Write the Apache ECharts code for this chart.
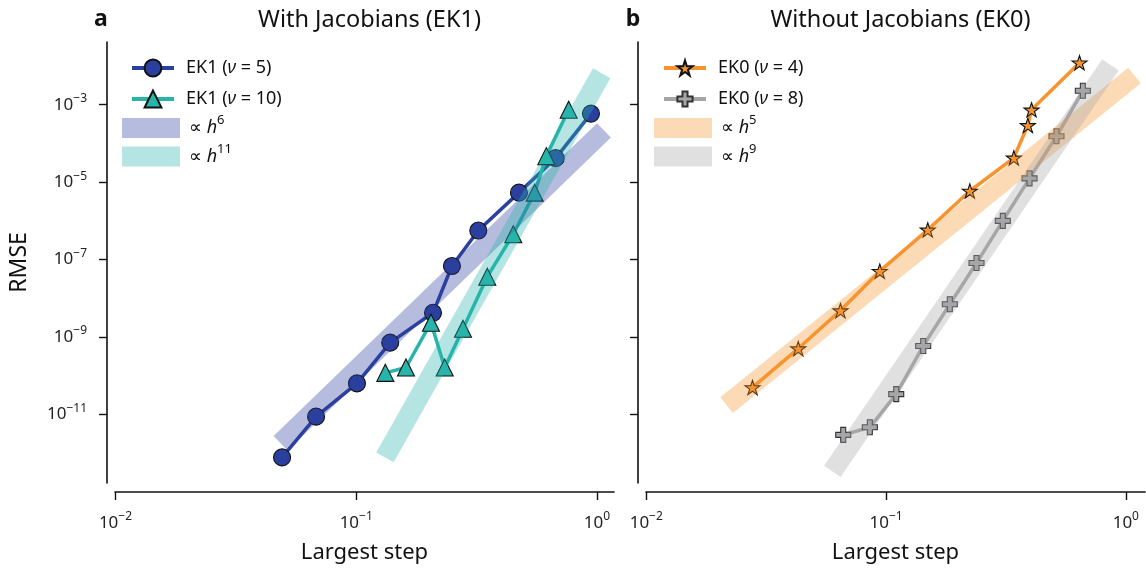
<!DOCTYPE html>
<html>
<head>
<meta charset="utf-8">
<script src="https://cdn.jsdelivr.net/npm/echarts@6/dist/echarts.min.js"></script>
<style>
  html, body { margin: 0; padding: 0; background: #fff; }
  #chart { width: 1146px; height: 569px; }
</style>
</head>
<body>
<div id="chart"></div>
<script>
// ---------------- data ----------------
// Panel a: with Jacobians (EK1)
const ek1_5_h   = [0.0492, 0.0681, 0.1007, 0.1384, 0.2084, 0.2498, 0.3214, 0.4742, 0.6737, 0.944];
const ek1_5_err = [7.7e-13, 8.7e-12, 6.3e-11, 7.1e-10, 4.2e-9, 6.8e-8, 5.6e-7, 5.35e-6, 4.16e-5, 5.9e-4];
const ek1_10_h   = [0.1321, 0.1609, 0.2044, 0.2331, 0.2776, 0.3502, 0.4491, 0.551, 0.6158, 0.7629];
const ek1_10_err = [1.18e-10, 1.62e-10, 2.33e-9, 1.62e-10, 1.63e-9, 3.6e-8, 4.5e-7, 5.35e-6, 4.7e-5, 7.4e-4];
const ref_h6_h    = [0.0485, 1.069];
const ref_h6_err  = [1.79e-12, 2.18e-4];
const ref_h11_h   = [0.1316, 1.046];
const ref_h11_err = [7.7e-13, 6.5e-3];

// Panel b: without Jacobians (EK0)
const ek0_4_h   = [0.02775, 0.04305, 0.06457, 0.09419, 0.1493, 0.2236, 0.3412, 0.3903, 0.4045, 0.6412];
const ek0_4_err = [4.95e-11, 5.0e-10, 4.8e-9, 5.0e-8, 5.85e-7, 5.9e-6, 4.25e-5, 2.94e-4, 7.4e-4, 1.22e-2];
const ek0_8_h   = [0.0663, 0.0856, 0.1103, 0.1429, 0.1845, 0.2384, 0.3069, 0.3967, 0.514, 0.6618];
const ek0_8_err = [2.94e-12, 4.63e-12, 3.33e-11, 5.85e-10, 7.0e-9, 8.1e-8, 9.95e-7, 1.25e-5, 1.53e-4, 2.29e-3];
const ref_h5_h    = [0.02163, 1.087];
const ref_h5_err  = [1.73e-11, 5.68e-3];
const ref_h9_h    = [0.0597, 0.8634];
const ref_h9_err  = [3.36e-13, 1.07e-2];

// tick exponents (labels are 10^k)
const xTickExp = [-2, -1, 0];
const yTickExp = [-11, -9, -7, -5, -3];

// ---------------- helpers ----------------
const FONT = '"Noto Sans", "Open Sans", sans-serif';
function toXY(hs, es) { return hs.map((h, i) => [Math.log10(h), Math.log10(es[i])]); }
function expLabel(v) {
  const k = Math.round(v);
  return '10{sup|' + (k < 0 ? '\u2212' : '') + Math.abs(k) + '}';
}
const STAR = 'path://M50,0 L61.23,34.55 L97.55,34.55 L68.17,55.9 L79.39,90.45 L50,69.1 L20.61,90.45 L31.83,55.9 L2.45,34.55 L38.77,34.55 Z';
const PLUS = 'path://M2,0 L4,0 L4,2 L6,2 L6,4 L4,4 L4,6 L2,6 L2,4 L0,4 L0,2 L2,2 Z';

const C_BLUE = '#2b409e', C_TEAL = '#27b5ab', C_ORANGE = '#f7942f', C_GRAY = '#a6a6a9';
function rgba(hex, a) {
  const n = parseInt(hex.slice(1), 16);
  return 'rgba(' + (n >> 16) + ',' + ((n >> 8) & 255) + ',' + (n & 255) + ',' + a + ')';
}
const tickRich = { sup: { fontSize: 12, verticalAlign: 'top', color: '#222', fontFamily: FONT } };

function xAxisCfg(idx, min, max) {
  return {
    type: 'value', gridIndex: idx, min: min, max: max, offset: 9,
    name: 'Largest step', nameLocation: 'middle', nameGap: 50,
    nameTextStyle: { fontSize: 22, color: '#111', fontFamily: FONT },
    axisLine: { onZero: false, lineStyle: { color: '#111', width: 1.6 } },
    axisTick: { customValues: xTickExp, length: 8, lineStyle: { color: '#111', width: 1.4 } },
    axisLabel: {
      customValues: xTickExp, margin: 19, formatter: expLabel,
      fontSize: 17, lineHeight: 24, color: '#222', fontFamily: FONT, rich: tickRich
    },
    splitLine: { show: false }
  };
}
function yAxisCfg(idx, showLabels) {
  return {
    type: 'value', gridIndex: idx, min: -12.775, max: -1.379, offset: 8,
    name: showLabels ? 'RMSE' : '', nameLocation: 'middle', nameGap: 76,
    nameTextStyle: { fontSize: 23, color: '#111', fontFamily: FONT },
    axisLine: { show: true, onZero: false, lineStyle: { color: '#111', width: 1.6 } },
    axisTick: { show: true, customValues: yTickExp, length: 8, lineStyle: { color: '#111', width: 1.4 } },
    axisLabel: {
      show: showLabels, customValues: yTickExp, margin: 20, formatter: expLabel,
      fontSize: 17, lineHeight: 24, color: '#222', fontFamily: FONT, rich: tickRich
    },
    splitLine: { show: false }
  };
}
function dataSeries(name, idx, data, color, symbol, size, edge) {
  return {
    name: name, type: 'line', xAxisIndex: idx, yAxisIndex: idx, data: data,
    symbol: symbol, symbolSize: size, symbolKeepAspect: true, showSymbol: true,
    color: color,
    lineStyle: { color: color, width: 3.5 },
    itemStyle: { color: color, borderColor: edge, borderWidth: 1.1 },
    z: 2, clip: false, silent: true
  };
}
function bandSeries(name, idx, data, color) {
  return {
    name: name, type: 'line', xAxisIndex: idx, yAxisIndex: idx, data: data,
    symbol: 'none', showSymbol: false, color: rgba(color, 0.35),
    lineStyle: { color: rgba(color, 0.35), width: 20, cap: 'butt' },
    itemStyle: { color: rgba(color, 0.35) },
    z: 3, clip: false, silent: true
  };
}
function legendFmt(name) {
  return name.replace('\u03bd', '{i|\u03bd}').replace(/h\^(\d+)/, '{i|h}{sup|$1}');
}
const LEG_LH = 28;
const legendText = {
  fontSize: 18, color: '#111', fontFamily: FONT, lineHeight: LEG_LH,
  rich: {
    i: { fontStyle: 'italic', fontSize: 18, fontFamily: FONT, color: '#111' },
    sup: { fontSize: 13, verticalAlign: 'top', fontFamily: FONT, color: '#111' }
  }
};
// one legend per item, so each icon can have its own size and exact centre
function lineLegend(left, centerY, name, itemH) {
  return {
    orient: 'vertical', left: left, top: centerY - Math.max(itemH, LEG_LH) / 2, padding: 0,
    itemWidth: 42, itemHeight: itemH, selectedMode: false, data: [name],
    lineStyle: { width: 4 },
    formatter: legendFmt, textStyle: Object.assign({ padding: [0, 0, 0, 7] }, legendText)
  };
}
function bandLegend(left, centerY, name, color) {
  return {
    orient: 'vertical', left: left, top: centerY - LEG_LH / 2, padding: 0,
    itemWidth: 58, itemHeight: 20, selectedMode: false,
    data: [{ name: name, icon: 'rect', itemStyle: { color: rgba(color, 0.35), borderWidth: 0 } }],
    formatter: legendFmt, textStyle: Object.assign({ padding: [0, 0, 0, 4] }, legendText)
  };
}

const chart = echarts.init(document.getElementById('chart'), null, { renderer: 'canvas' });
chart.setOption({
  animation: false,
  backgroundColor: '#fff',
  textStyle: { fontFamily: FONT },
  title: [
    { text: 'a', left: 96, top: 3, textAlign: 'center', textStyle: { fontSize: 23, fontWeight: 'bold', color: '#111', fontFamily: FONT } },
    { text: 'With Jacobians (EK1)', left: 364.5, top: 3, textAlign: 'center', textStyle: { fontSize: 23.5, fontWeight: 'normal', color: '#111', fontFamily: FONT } },
    { text: 'b', left: 628, top: 3, textAlign: 'center', textStyle: { fontSize: 23, fontWeight: 'bold', color: '#111', fontFamily: FONT } },
    { text: 'Without Jacobians (EK0)', left: 895.5, top: 3, textAlign: 'center', textStyle: { fontSize: 23.5, fontWeight: 'normal', color: '#111', fontFamily: FONT } }
  ],
  grid: [
    { left: 115, top: 42, width: 499, height: 443 },
    { left: 646, top: 42, width: 499, height: 443 }
  ],
  xAxis: [xAxisCfg(0, -2.002, 0.0707), xAxisCfg(1, -2.001, 0.080)],
  yAxis: [yAxisCfg(0, true), yAxisCfg(1, false)],
  legend: [
    lineLegend(130, 68, 'EK1 (\u03bd = 5)', 21),
    lineLegend(130, 99, 'EK1 (\u03bd = 10)', 21),
    bandLegend(122, 128, '\u221d h^6', C_BLUE),
    bandLegend(122, 156.5, '\u221d h^11', C_TEAL),
    lineLegend(662, 68, 'EK0 (\u03bd = 4)', 19),
    lineLegend(662, 99, 'EK0 (\u03bd = 8)', 19),
    bandLegend(654, 128, '\u221d h^5', C_ORANGE),
    bandLegend(654, 156.5, '\u221d h^9', C_GRAY)
  ],
  series: [
    dataSeries('EK1 (\u03bd = 5)', 0, toXY(ek1_5_h, ek1_5_err), C_BLUE, 'circle', 17, '#111'),
    dataSeries('EK1 (\u03bd = 10)', 0, toXY(ek1_10_h, ek1_10_err), C_TEAL, 'triangle', 17, '#111'),
    bandSeries('\u221d h^6', 0, toXY(ref_h6_h, ref_h6_err), C_BLUE),
    bandSeries('\u221d h^11', 0, toXY(ref_h11_h, ref_h11_err), C_TEAL),
    dataSeries('EK0 (\u03bd = 4)', 1, toXY(ek0_4_h, ek0_4_err), C_ORANGE, STAR, 15, '#111'),
    dataSeries('EK0 (\u03bd = 8)', 1, toXY(ek0_8_h, ek0_8_err), C_GRAY, PLUS, 15, '#333'),
    bandSeries('\u221d h^5', 1, toXY(ref_h5_h, ref_h5_err), C_ORANGE),
    bandSeries('\u221d h^9', 1, toXY(ref_h9_h, ref_h9_err), C_GRAY)
  ]
});
</script>
</body>
</html>
